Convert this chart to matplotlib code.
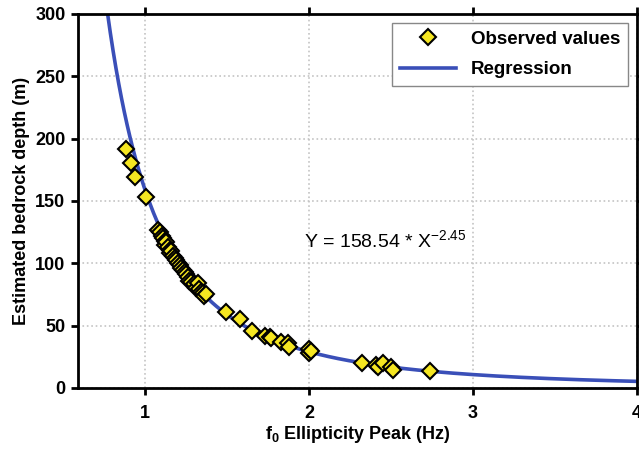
import numpy as np
import matplotlib
matplotlib.use('Agg')
import matplotlib.pyplot as plt

# Observed f0 peaks (Hz) and estimated bedrock depth (m).
f0 = [0.88, 0.915, 0.94, 1.005,
      1.08, 1.09, 1.10, 1.11, 1.12, 1.12, 1.13, 1.14, 1.15, 1.15, 1.16,
      1.17, 1.18, 1.19, 1.20, 1.21, 1.22, 1.23, 1.24, 1.25, 1.26, 1.27,
      1.28, 1.30, 1.31, 1.32, 1.33, 1.34, 1.35, 1.36, 1.37,
      1.49, 1.58, 1.65, 1.73, 1.76, 1.77, 1.83, 1.87, 1.88,
      2.00, 2.00, 2.01,
      2.32, 2.41, 2.42, 2.45, 2.50, 2.51, 2.74]
depth = [192, 180, 169, 153,
         127, 125, 122, 120, 118, 115, 117, 113, 111, 108, 110,
         106, 104, 103, 100, 99, 96, 95, 93, 91, 89, 86,
         85, 83, 80, 84, 79, 77, 76, 74, 75,
         61, 55, 46, 42, 41, 40, 37, 36, 33,
         28, 31, 29.5,
         20, 18.5, 17, 20, 17, 14.5, 13.5]

# Power-law regression shown on the chart: Y = a * X^b
coef_a = 158.54
coef_b = -2.45

plt.rcParams['font.family'] = ['Liberation Sans Narrow', 'Liberation Sans', 'DejaVu Sans']
plt.rcParams['mathtext.fontset'] = 'custom'
plt.rcParams['mathtext.rm'] = 'Liberation Sans'
plt.rcParams['mathtext.bf'] = 'Liberation Sans:bold'

fig = plt.figure(figsize=(6.39, 4.53), dpi=100)
ax = fig.add_axes([0.122, 0.1435, 0.875, 0.826])

xs = np.linspace(0.6, 4.0, 400)
ax.plot(xs, coef_a * xs ** coef_b, color='#3a4fb8', lw=2.6, label='Regression', zorder=2)
ax.plot(f0, depth, linestyle='none', marker='D', markersize=8.5,
        markerfacecolor='#f5e621', markeredgecolor='black', markeredgewidth=1.5,
        label='Observed values', zorder=3)

ax.set_xlim(0.59, 4.0)
ax.set_ylim(0, 300)
ax.set_xticks([1, 2, 3, 4])
ax.set_yticks([0, 50, 100, 150, 200, 250, 300])
ax.grid(True, color='#c4c4c4', linestyle=':', linewidth=1.2)
ax.set_axisbelow(True)

for s in ax.spines.values():
    s.set_linewidth(2)
ax.tick_params(direction='out', length=5, width=2, labelsize=13, top=True, right=True,
               pad=4)
for lbl in ax.get_xticklabels() + ax.get_yticklabels():
    lbl.set_fontweight('bold')
ax.tick_params(axis='x', pad=7)

ax.set_xlabel(r'f$_{\mathbf{0}}$ Ellipticity Peak (Hz)', fontsize=13, fontweight='bold',
              labelpad=2)
ax.set_ylabel('Estimated bedrock depth (m)', fontsize=13, fontweight='bold')

ax.text(1.97, 118, r'Y = 158.54 * X$^{-2.45}$', fontsize=14, va='center', ha='left')

handles, labels = ax.get_legend_handles_labels()
leg = ax.legend(handles[::-1], labels[::-1], loc='upper right', fancybox=False,
                prop={'weight': 'bold', 'size': 13.5}, borderaxespad=0.5,
                labelspacing=0.7, handlelength=3, edgecolor='#888888', framealpha=1)
leg.get_frame().set_linewidth(1)

fig.savefig('out.png', dpi=100)
